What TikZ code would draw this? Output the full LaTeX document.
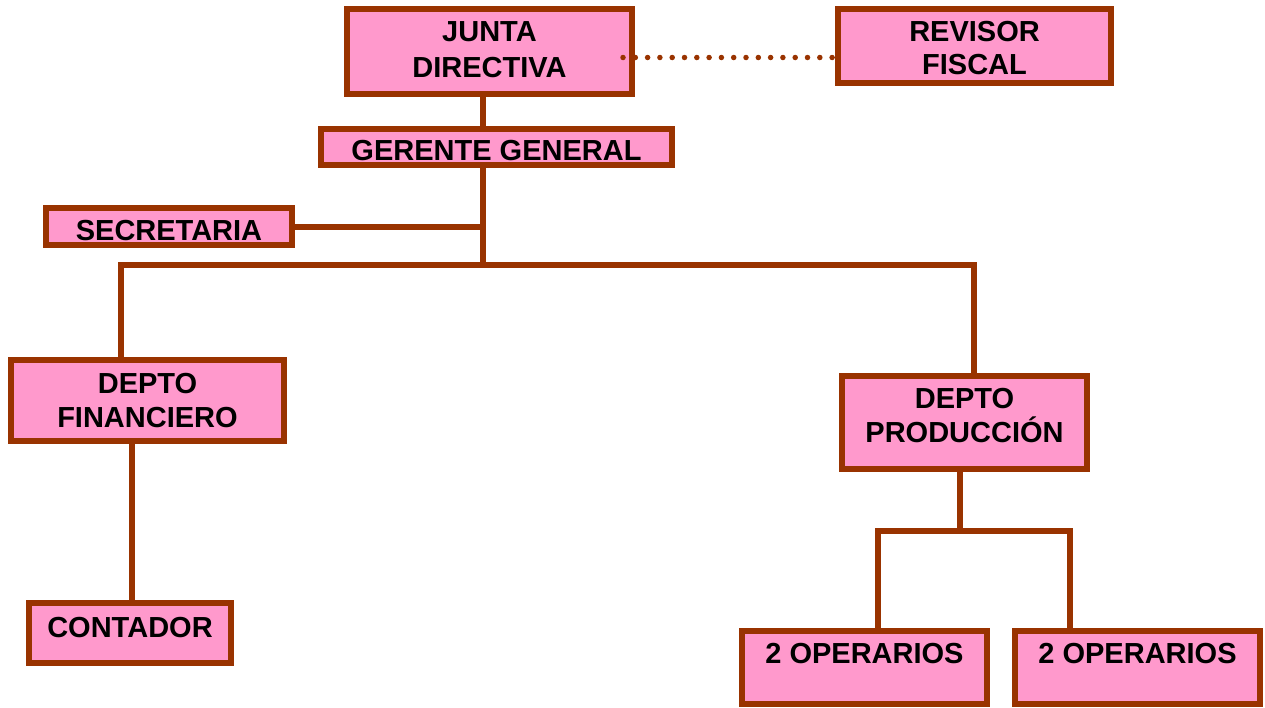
\documentclass[tikz,border=0pt]{standalone}
\usepackage{fontspec}
\setmainfont{Liberation Sans}
\usepackage{xcolor}
\usetikzlibrary{calc}
\definecolor{boxfill}{RGB}{255,153,204}
\definecolor{boxline}{RGB}{153,51,0}

\tikzset{
  box/.style={draw=boxline,fill=boxfill,line width=6pt,inner sep=0pt,align=center,
    font=\fontsize{29}{34}\selectfont\bfseries},
  link/.style={draw=boxline,line width=6pt},
  dotlink/.style={draw=boxline,line width=5.5pt,line cap=round,dash pattern=on 0pt off 12.3pt}
}

\begin{document}
\begin{tikzpicture}[x=1pt,y=-1pt]
    \useasboundingbox (0,0) rectangle (1265,707);
    % boxes: name/x/y/width/height/text height/text depth/text
    \foreach \nm/\cx/\cy/\w/\h/\th/\td/\txt in {
      junta/489.5/51.5/285pt/85pt/57pt/6pt/{JUNTA\\[2pt]DIRECTIVA},
      revisor/974.5/46/273pt/74pt/56pt/0pt/{REVISOR\\[-1pt]FISCAL},
      gerente/496.5/147/351pt/36pt/26pt/0pt/{GERENTE GENERAL},
      secretaria/169/226.5/246pt/37pt/27pt/0pt/{SECRETARIA},
      financiero/147.5/400.5/273pt/81pt/55pt/2pt/{DEPTO\\FINANCIERO},
      produccion/964.5/422.5/245pt/93pt/55pt/16pt/{DEPTO\\PRODUCCIÓN},
      contador/130/633/202pt/60pt/21pt/13pt/{CONTADOR},
      oper1/864.5/667.5/245pt/73pt/21pt/30pt/{2 OPERARIOS},
      oper2/1137.5/667.5/245pt/73pt/21pt/30pt/{2 OPERARIOS}}{
      \node[box,minimum width=\w,minimum height=\h,text height=\th,text depth=\td]
        (\nm) at (\cx,\cy) {\txt};
    }
    % junction points
    \coordinate (trunk) at (483,264.5);
    \coordinate (busL) at (121,264.5);
    \coordinate (busR) at (973.5,264.5);
    \coordinate (opbus) at (960,531);
    \coordinate (opL) at (878,531);
    \coordinate (opR) at (1069.5,531);
    % connectors
    \draw[link] (junta.south -| trunk) -- (gerente.north -| trunk);
    \draw[link] (gerente.south -| trunk) -- (trunk);
    \draw[link] (secretaria.east) -- (secretaria.east -| trunk);
    \draw[link] (financiero.north -| busL) -- (busL) -- (busR) -- (produccion.north -| busR);
    \draw[link] ([xshift=-15.5pt]financiero.south) -- ([xshift=-15.5pt]financiero.south |- contador.north);
    \draw[link] (produccion.south -| opbus) -- (opbus);
    \draw[link] (oper1.north -| opL) -- (opL) -- (opR) -- (oper2.north -| opR);
    \draw[dotlink] ([shift={(-12,6)}]junta.east) -- ([shift={(0,6)}]junta.east -| revisor.west);
  \end{tikzpicture}
\end{document}
